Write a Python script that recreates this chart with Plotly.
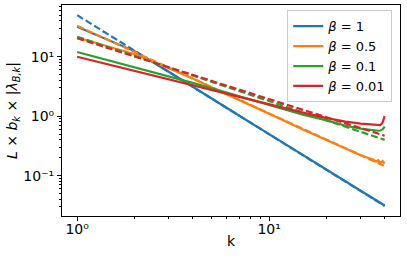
import plotly.graph_objects as go

colors = ["#1f77b4", "#ff7f0e", "#2ca02c", "#d62728"]
labels = ["<i>β</i> = 1", "<i>β</i> = 0.5", "<i>β</i> = 0.1", "<i>β</i> = 0.01"]

# solid (computed) curves
k_solid = [1, 2, 3, 4, 6, 8, 10, 15, 20, 25, 30, 35, 36, 37, 38, 39, 40]
y_beta1 = [32, 12.3, 5.6, 3.1, 1.39, 0.78, 0.50, 0.22, 0.125, 0.080, 0.056, 0.041, 0.039, 0.037, 0.035, 0.033, 0.0316]
y_beta05 = [21, 11, 6.4, 4.3, 2.35, 1.55, 1.10, 0.60, 0.40, 0.29, 0.22, 0.185, 0.172, 0.182, 0.165, 0.176, 0.16]
y_beta01 = [12, 6.67, 4.73, 3.63, 2.49, 1.9, 1.55, 1.06, 0.85, 0.69, 0.62, 0.575, 0.572, 0.57, 0.575, 0.60, 0.67]
y_beta001 = [10, 5.8, 4.25, 3.34, 2.4, 1.9, 1.58, 1.15, 0.93, 0.81, 0.75, 0.71, 0.705, 0.70, 0.71, 0.78, 1.0]

# dashed (approximation) lines
k_dash = [1, 40]
d_beta1 = [50, 0.031]
d_beta05 = [33, 0.145]
d_beta01 = [21.7, 0.40]
d_beta001 = [20.4, 0.47]

solids = [y_beta1, y_beta05, y_beta01, y_beta001]
dashes = [d_beta1, d_beta05, d_beta01, d_beta001]

fig = go.Figure()
for c, lab, ys, yd in zip(colors, labels, solids, dashes):
    fig.add_trace(go.Scatter(x=k_solid, y=ys, mode="lines", name=lab,
                             line=dict(color=c, width=2.2)))
    fig.add_trace(go.Scatter(x=k_dash, y=yd, mode="lines", showlegend=False,
                             line=dict(color=c, width=2.2, dash="7px,3px")))

font = dict(family="DejaVu Sans", size=13, color="black")

x_major = [1, 10]
x_major_text = ["10⁰", "10¹"]
x_minor = [2, 3, 4, 5, 6, 7, 8, 9, 20, 30, 40]
y_major = [0.1, 1, 10]
y_major_text = ["10⁻¹", "10⁰", "10¹"]
y_minor = [0.02, 0.03, 0.04, 0.05, 0.06, 0.07, 0.08, 0.09,
           0.2, 0.3, 0.4, 0.5, 0.6, 0.7, 0.8, 0.9,
           2, 3, 4, 5, 6, 7, 8, 9, 20, 30, 40, 50, 60, 70]

fig.update_layout(
    width=407, height=258,
    margin=dict(l=62, r=7, t=5, b=42),
    paper_bgcolor="white", plot_bgcolor="white",
    font=font,
    showlegend=True,
    legend=dict(x=0.977, y=0.975, xanchor="right", yanchor="top",
                bgcolor="rgba(255,255,255,0.8)", bordercolor="#cccccc",
                borderwidth=1, font=dict(family="DejaVu Sans", size=13),
                tracegroupgap=0, itemwidth=30),
)
fig.update_xaxes(
    type="log", range=[-0.079, 1.682], automargin=False,
    showgrid=False, zeroline=False,
    showline=True, linecolor="black", linewidth=1, mirror=True,
    ticks="outside", ticklen=4, tickcolor="black",
    tickmode="array", tickvals=x_major, ticktext=x_major_text,
    tickfont=dict(family="DejaVu Sans", size=14),
    ticklabelstandoff=-4,
    minor=dict(ticks="outside", ticklen=2, tickcolor="black",
               tickmode="array", tickvals=x_minor, showgrid=False),
    title=dict(text="k", font=dict(family="DejaVu Sans", size=14), standoff=0),
)
fig.update_yaxes(
    type="log", range=[-1.677, 1.869], automargin=False,
    showgrid=False, zeroline=False,
    showline=True, linecolor="black", linewidth=1, mirror=True,
    ticks="outside", ticklen=4, tickcolor="black",
    tickmode="array", tickvals=y_major, ticktext=y_major_text,
    tickfont=dict(family="DejaVu Sans", size=14),
    minor=dict(ticks="outside", ticklen=2, tickcolor="black",
               tickmode="array", tickvals=y_minor, showgrid=False),
    title=dict(text="<i>L</i> × <i>b<sub>k</sub></i> × |<i>λ<sub>B,k</sub></i>|",
               font=dict(family="DejaVu Sans", size=14), standoff=2),
)

fig.write_html("out.html", config={"displayModeBar": False},
               post_script="document.body.style.margin='0';document.body.style.padding='0';")
